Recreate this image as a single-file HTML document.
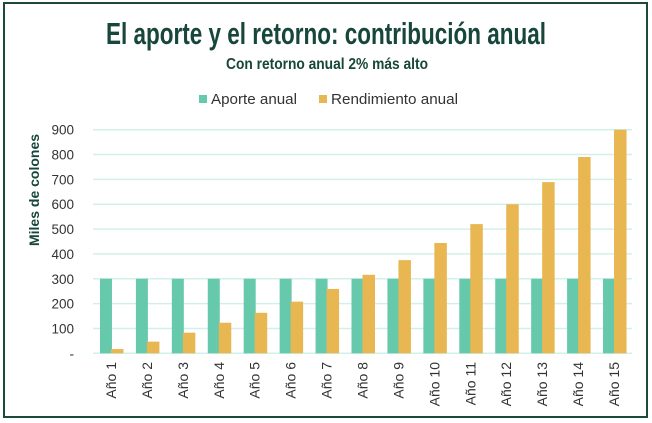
<!DOCTYPE html>
<html><head><meta charset="utf-8"><style>
html,body{margin:0;padding:0;background:#fff;}
svg{display:block;font-family:"Liberation Sans",sans-serif;}
</style></head><body>
<svg id="chart" width="652" height="423">
<rect x="4" y="3" width="643" height="414" fill="#fff" stroke="#1b4a3c" stroke-width="2"/>
<text x="326" y="44" text-anchor="middle" font-family="Liberation Sans Narrow, Liberation Sans, sans-serif" font-weight="bold" font-size="31" fill="#17463a" textLength="440" lengthAdjust="spacingAndGlyphs">El aporte y el retorno: contribución anual</text>
<text x="327" y="69" text-anchor="middle" font-family="Liberation Sans Narrow, Liberation Sans, sans-serif" font-weight="bold" font-size="16" fill="#17463a" textLength="202" lengthAdjust="spacingAndGlyphs">Con retorno anual 2% más alto</text>
<g>
<g><rect x="199" y="95" width="8" height="8" fill="#66c9ab"/><text x="211" y="104" font-size="15" fill="#333" textLength="86" lengthAdjust="spacingAndGlyphs">Aporte anual</text></g>
<g><rect x="319" y="95" width="8" height="8" fill="#e8b751"/><text x="331" y="104" font-size="15" fill="#333" textLength="127" lengthAdjust="spacingAndGlyphs">Rendimiento anual</text></g>
</g>
<text transform="translate(39,190) rotate(-90)" text-anchor="middle" font-family="Liberation Sans Narrow, Liberation Sans, sans-serif" font-weight="bold" font-size="14" fill="#17463a">Miles de colones</text>
<g id="grid"></g><g id="bars"></g><g id="ylabels"></g><g id="xlabels"></g>
</svg>
<script>
const categories = ["Año 1","Año 2","Año 3","Año 4","Año 5","Año 6","Año 7","Año 8","Año 9","Año 10","Año 11","Año 12","Año 13","Año 14","Año 15"];
const aporte = [300,300,300,300,300,300,300,300,300,300,300,300,300,300,300];
const rendimiento = [17,47,83,123,163,208,259,316,375,444,520,600,689,790,900];
const yTicks = [0,100,200,300,400,500,600,700,800,900];
const yTickLabels = ["-","100","200","300","400","500","600","700","800","900"];
const NS="http://www.w3.org/2000/svg";
const x0=93,x1=632,y0=353.3,y1=129.7,yMax=900;
const bw=(x1-x0)/categories.length;
function yS(v){return y0-(v/yMax)*(y0-y1);}
function xC(i){return x0+bw*(i+0.5);}
function mk(t,a,p){const e=document.createElementNS(NS,t);for(const k in a)e.setAttribute(k,a[k]);p.appendChild(e);return e;}
const grid=document.getElementById('grid'),bars=document.getElementById('bars'),yl=document.getElementById('ylabels'),xl=document.getElementById('xlabels');
yTicks.forEach((v,i)=>{
 const l=mk('line',{x1:x0,x2:x1,y1:yS(v),y2:yS(v),stroke:'#d2f0ea','stroke-width':1.5},grid);
 
 
 const t=mk('text',{x:74,y:yS(v)+5,'text-anchor':'end','font-size':13.5,fill:'#333'},yl);
 t.textContent=yTickLabels[i];
 
 
});
categories.forEach((c,i)=>{
 const cx=xC(i);
 const g=mk('rect',{x:cx-11,y:yS(aporte[i]),width:12,height:y0-yS(aporte[i]),fill:'#66c9ab'},bars);
 
 
 const r=mk('rect',{x:cx,y:yS(rendimiento[i]),width:12.5,height:y0-yS(rendimiento[i]),fill:'#e8b751'},bars);
 
 
 const t=mk('text',{transform:`translate(${cx+5},362) rotate(-90)`,'text-anchor':'end','font-size':14,fill:'#333'},xl);
 t.textContent=c;
 
 
});
</script>
</body></html>
